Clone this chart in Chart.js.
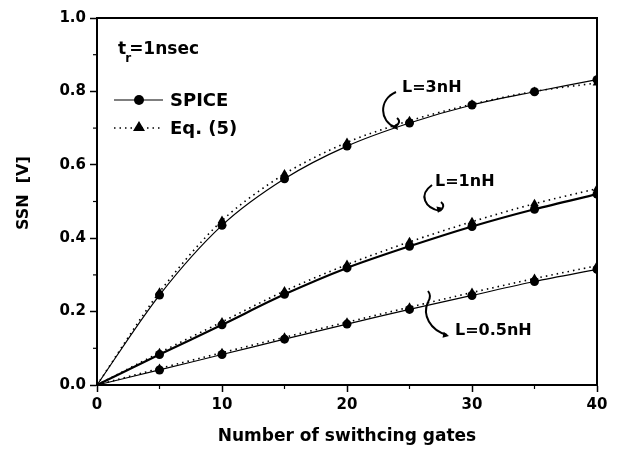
<!DOCTYPE html>
<html><head><meta charset="utf-8">
<script src="https://cdn.jsdelivr.net/npm/chart.js@4/dist/chart.umd.min.js"></script>
<style>html,body{margin:0;padding:0;background:#fff}#wrap{width:617px;height:456px}</style>
</head><body><div id="wrap"><canvas id="c" width="617" height="456"></canvas></div>
<script>
const gates = [0, 5, 10, 15, 20, 25, 30, 35, 40];
const spice3nH = [0, 0.245, 0.435, 0.562, 0.651, 0.714, 0.763, 0.799, 0.832];
const eq3nH    = [0, 0.253, 0.448, 0.575, 0.661, 0.720, 0.765, 0.800, 0.823];
const spice1nH = [0, 0.083, 0.164, 0.247, 0.319, 0.378, 0.432, 0.479, 0.520];
const eq1nH    = [0, 0.088, 0.172, 0.256, 0.328, 0.390, 0.445, 0.494, 0.535];
const spice05nH = [0, 0.041, 0.083, 0.125, 0.166, 0.206, 0.244, 0.282, 0.315];
const eq05nH    = [0, 0.045, 0.088, 0.130, 0.171, 0.212, 0.252, 0.290, 0.325];
const xMinorTicks = [5, 15, 25, 35];
const yMinorTicks = [0.1, 0.3, 0.5, 0.7, 0.9];
const curveLabels = ['L=3nH', 'L=1nH', 'L=0.5nH'];

const FONT = '"DejaVu Sans", Verdana, sans-serif';
const pts = arr => gates.map((g, i) => ({x: g, y: arr[i]}));
const rad = r => ctx => ctx.dataIndex === 0 ? 0 : r;

function spiceDs(label, arr, w) {
  return {label, data: pts(arr), borderColor: '#000', backgroundColor: '#000', borderWidth: w,
    pointStyle: 'circle', pointRadius: rad(4.5), pointBorderWidth: 0, tension: 0.3, order: 1};
}
function eqDs(label, arr) {
  return {label, data: pts(arr), borderColor: '#000', backgroundColor: '#000', borderWidth: 1.6,
    borderDash: [1.5, 4], pointStyle: 'triangle', pointRadius: rad(5), pointBorderWidth: 0, tension: 0.3, order: 2};
}

const deco = {
  id: 'deco',
  afterDraw(chart) {
    const c = chart.ctx, a = chart.chartArea;
    const xs = chart.scales.x, ys = chart.scales.y;
    c.save();
    c.strokeStyle = '#000'; c.lineWidth = 2;
    c.strokeRect(a.left, a.top, a.right - a.left, a.bottom - a.top);
    c.lineWidth = 1.2;
    xMinorTicks.forEach(v => { const p = xs.getPixelForValue(v); c.beginPath(); c.moveTo(p, a.bottom); c.lineTo(p, a.bottom + 4); c.stroke(); });
    yMinorTicks.forEach(v => { const p = ys.getPixelForValue(v); c.beginPath(); c.moveTo(a.left, p); c.lineTo(a.left - 4, p); c.stroke(); });
    // t_r label
    c.fillStyle = '#000'; c.textBaseline = 'alphabetic';
    c.font = 'bold 17px ' + FONT;
    c.fillText('t', 118, 54);
    const tw = c.measureText('t').width;
    c.font = 'bold 12px ' + FONT;
    c.fillText('r', 117 + tw, 62);
    c.font = 'bold 17px ' + FONT;
    c.fillText('=1nsec', 118 + tw + 3, 54);
    // legend
    c.lineWidth = 1.2; c.setLineDash([]);
    c.beginPath(); c.moveTo(114, 100); c.lineTo(163, 100); c.stroke();
    c.beginPath(); c.arc(139, 100, 5, 0, Math.PI * 2); c.fill();
    c.setLineDash([1.5, 4]); c.lineWidth = 1.6;
    c.beginPath(); c.moveTo(114, 128); c.lineTo(163, 128); c.stroke();
    c.setLineDash([]);
    c.beginPath(); c.moveTo(139, 121); c.lineTo(145, 131); c.lineTo(133, 131); c.closePath(); c.fill();
    c.font = 'bold 18px ' + FONT; c.textBaseline = 'middle';
    c.fillText('SPICE', 170, 101);
    c.fillText('Eq. (5)', 170, 129);
    // curve labels
    c.font = 'bold 16px ' + FONT;
    c.fillText(curveLabels[0], 402, 88);
    c.fillText(curveLabels[1], 435, 182);
    c.fillText(curveLabels[2], 455, 331);
    c.lineWidth = 2;
    const arrow = (p0, p1, p2, p3, hx, hy, ang) => {
      c.beginPath(); c.moveTo(p0[0], p0[1]); c.bezierCurveTo(p1[0], p1[1], p2[0], p2[1], p3[0], p3[1]); c.stroke();
      c.save(); c.translate(hx, hy); c.rotate(ang);
      c.beginPath(); c.moveTo(0, 0); c.lineTo(-6, -3); c.lineTo(-6, 3); c.closePath(); c.fill(); c.restore();
    };
    arrow([396, 92], [378, 100], [380, 122], [395, 127], 398, 130, 0.9);
    c.beginPath(); c.moveTo(395, 127); c.quadraticCurveTo(402, 122, 397, 118); c.stroke();
    arrow([432, 185], [418, 195], [425, 208], [440, 211], 438, 213, 1.8);
    c.beginPath(); c.moveTo(440, 211); c.quadraticCurveTo(446, 206, 441, 202); c.stroke();
    arrow([428, 302], [422, 315], [430, 330], [447, 335], 449, 336, 0.2);
    c.beginPath(); c.moveTo(428, 302); c.quadraticCurveTo(432, 296, 428, 291); c.stroke();
    c.restore();
  }
};

new Chart(document.getElementById('c'), {
  type: 'line',
  data: {datasets: [
    spiceDs('SPICE L=3nH', spice3nH, 1.2), eqDs('Eq. (5) L=3nH', eq3nH),
    spiceDs('SPICE L=1nH', spice1nH, 2.2), eqDs('Eq. (5) L=1nH', eq1nH),
    spiceDs('SPICE L=0.5nH', spice05nH, 1.2), eqDs('Eq. (5) L=0.5nH', eq05nH)
  ]},
  options: {
    responsive: false, animation: false,
    layout: {padding: {left: 0, right: 20, top: 18, bottom: 0}},
    plugins: {legend: {display: false}, tooltip: {enabled: false}},
    scales: {
      x: {type: 'linear', min: 0, max: 40,
        ticks: {stepSize: 10, color: '#000', font: {family: FONT, size: 15, weight: 'bold'}, padding: 4, maxRotation: 0},
        grid: {drawOnChartArea: false, drawTicks: true, tickLength: 7, color: '#000', tickWidth: 1.5},
        border: {color: '#000', width: 2},
        title: {display: true, text: 'Number of swithcing gates', color: '#000', font: {family: FONT, size: 17, weight: 'bold'}, padding: {top: 8, bottom: 9}},
        afterFit: s => { s.height = 71; }
      },
      y: {min: 0, max: 1,
        ticks: {stepSize: 0.2, color: '#000', font: {family: FONT, size: 15, weight: 'bold'}, padding: 4, callback: v => v.toFixed(1)},
        grid: {drawOnChartArea: false, drawTicks: true, tickLength: 7, color: '#000', tickWidth: 1.5},
        border: {color: '#000', width: 2},
        title: {display: true, text: '   SSN  [V]', color: '#000', font: {family: FONT, size: 16, weight: 'bold'}, padding: {top: 14, bottom: 0}},
        afterFit: s => { s.width = 97; }
      }
    }
  },
  plugins: [deco]
});
</script></body></html>
